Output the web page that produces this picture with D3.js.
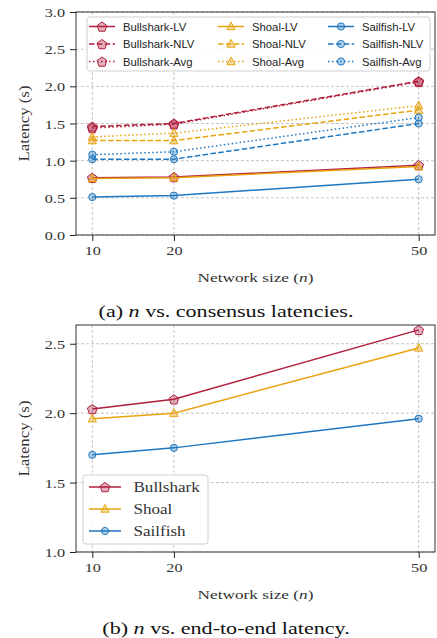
<!DOCTYPE html>
<html>
<head>
<meta charset="utf-8">
<script src="https://cdn.jsdelivr.net/npm/d3@7"></script>
<style>
  body { margin: 0; background: #fff; }
</style>
</head>
<body>
<div id="chart"></div>
<script>
// x values
const networkSizes = [10, 20, 50];

// (a) consensus latencies (s)
const bullsharkLV = [0.77, 0.78, 0.94];
const bullsharkNLV = [1.46, 1.50, 2.07];
const bullsharkAvg = [1.44, 1.49, 2.06];
const shoalLV = [0.76, 0.77, 0.92];
const shoalNLV = [1.27, 1.27, 1.68];
const shoalAvg = [1.32, 1.37, 1.74];
const sailfishLV = [0.51, 0.53, 0.75];
const sailfishNLV = [1.02, 1.02, 1.50];
const sailfishAvg = [1.08, 1.12, 1.58];

// (b) end-to-end latency (s)
const e2eBullshark = [2.03, 2.10, 2.60];
const e2eShoal = [1.96, 2.00, 2.47];
const e2eSailfish = [1.70, 1.75, 1.96];

const ticksA = [0, 0.5, 1.0, 1.5, 2.0, 2.5, 3.0];
const ticksB = [1.0, 1.5, 2.0, 2.5];

const W = 437, H = 638;
const SERIF = '"Liberation Serif", "Times New Roman", serif';
const SANS = '"Liberation Sans", Arial, sans-serif';
const INK = '#333';

const colors = { Bullshark: '#b01e3e', Shoal: '#e8a30f', Sailfish: '#1f77c0' };
const dashes = { LV: null, NLV: '5.5,2.4', Avg: '1.5,2.5' };

const svg = d3.select('#chart').append('svg').attr('width', W).attr('height', H);

const x = d3.scaleLinear().domain([8, 52]).range([76, 435]);

function pentagon(r) {
  const pts = d3.range(5).map(k => {
    const a = (-90 + 72 * k) * Math.PI / 180;
    return [r * Math.cos(a), r * Math.sin(a) + 0.6];
  });
  return 'M' + pts.map(p => p.join(',')).join('L') + 'Z';
}
const markerPaths = {
  Bullshark: pentagon(5.1),
  Shoal: 'M0,-4.6L-4.1,3.2L4.1,3.2Z',
  Sailfish: d3.symbol(d3.symbolCircle, Math.PI * 3.6 * 3.6)()
};

function drawMarker(g, name, cx, cy) {
  g.append('path')
    .attr('d', markerPaths[name])
    .attr('transform', `translate(${cx},${cy})`)
    .attr('fill', colors[name])
    .attr('fill-opacity', 0.35)
    .attr('stroke', colors[name])
    .attr('stroke-width', 1);
}

// text stretched horizontally to match the reference's wide serif
function label(g, px, py, size, sx, anchor, family, parts, rotate) {
  const t = g.append('text')
    .attr('transform', `translate(${px},${py})${rotate ? ' rotate(-90)' : ''} scale(${sx},1)`)
    .attr('text-anchor', anchor)
    .style('font-family', family)
    .style('font-size', size + 'px')
    .attr('fill', INK);
  parts.forEach(p => {
    t.append('tspan').text(p.t).style('font-style', p.i ? 'italic' : 'normal');
  });
  return t;
}

function panel(opt) {
  const y = d3.scaleLinear().domain(opt.yDomain).range([opt.bottom, opt.top]);
  const g = svg.append('g');

  // grid
  g.append('g').selectAll('line').data(networkSizes).join('line')
    .attr('x1', d => x(d)).attr('x2', d => x(d))
    .attr('y1', opt.top).attr('y2', opt.bottom)
    .attr('stroke', '#b0b0b0').attr('stroke-width', 0.8).attr('stroke-dasharray', '2.8,2.2');
  g.append('g').selectAll('line').data(opt.yTicks).join('line')
    .attr('x1', x.range()[0]).attr('x2', x.range()[1])
    .attr('y1', d => y(d)).attr('y2', d => y(d))
    .attr('stroke', '#b0b0b0').attr('stroke-width', 0.8).attr('stroke-dasharray', '2.8,2.2');

  // series
  const line = d3.line().x((d, i) => x(networkSizes[i])).y(d => y(d));
  opt.series.forEach(s => {
    const sg = g.append('g');
    sg.append('path').datum(s.values)
      .attr('d', line)
      .attr('fill', 'none')
      .attr('stroke', colors[s.name])
      .attr('stroke-width', 1.5)
      .attr('stroke-dasharray', dashes[s.style]);
    s.values.forEach((v, i) => drawMarker(sg, s.name, x(networkSizes[i]), y(v)));
  });

  // frame
  g.append('rect')
    .attr('x', x.range()[0]).attr('y', opt.top)
    .attr('width', x.range()[1] - x.range()[0]).attr('height', opt.bottom - opt.top)
    .attr('fill', 'none').attr('stroke', '#333').attr('stroke-width', 1);

  // axes
  const yAxis = d3.axisLeft(y).tickValues(opt.yTicks).tickFormat(d3.format('.1f'))
    .tickSize(6).tickPadding(5).tickSizeOuter(0);
  const ya = g.append('g').attr('transform', `translate(${x.range()[0]},0)`).call(yAxis);
  ya.select('.domain').remove();
  ya.selectAll('line').attr('stroke', '#222');
  ya.selectAll('text')
    .attr('dy', '0.36em')
    .attr('transform', 'translate(-11,0) scale(1.3,1) translate(11,0)')
    .style('font-family', SERIF).style('font-size', '12.5px').attr('fill', INK);

  const xAxis = d3.axisBottom(x).tickValues(networkSizes).tickFormat(d3.format('d'))
    .tickSize(6).tickPadding(5).tickSizeOuter(0);
  const xa = g.append('g').attr('transform', `translate(0,${opt.bottom})`).call(xAxis);
  xa.select('.domain').remove();
  xa.selectAll('line').attr('stroke', '#222');
  xa.selectAll('text')
    .attr('transform', 'scale(1.3,1)')
    .style('font-family', SERIF).style('font-size', '12.5px').attr('fill', INK);

  // axis titles and caption
  const midX = (x.range()[0] + x.range()[1]) / 2;
  label(g, midX, opt.bottom + 47, 12.5, 1.38, 'middle', SERIF,
    [{ t: 'Network size (' }, { t: 'n', i: true }, { t: ')' }]);
  label(g, 29, (opt.top + opt.bottom) / 2, 14, 1.2, 'middle', SERIF,
    [{ t: 'Latency (s)' }], true);
  label(g, 226, opt.bottom + 82, 16, 1.38, 'middle', SERIF, opt.caption).attr('fill', '#111');

  return g;
}

// (a)
const gA = panel({
  top: 12, bottom: 235, yDomain: [0, 3], yTicks: ticksA,
  caption: [{ t: '(a) ' }, { t: 'n', i: true }, { t: ' vs. consensus latencies.' }],
  series: [
    { name: 'Bullshark', style: 'LV', values: bullsharkLV },
    { name: 'Bullshark', style: 'NLV', values: bullsharkNLV },
    { name: 'Bullshark', style: 'Avg', values: bullsharkAvg },
    { name: 'Shoal', style: 'LV', values: shoalLV },
    { name: 'Shoal', style: 'NLV', values: shoalNLV },
    { name: 'Shoal', style: 'Avg', values: shoalAvg },
    { name: 'Sailfish', style: 'LV', values: sailfishLV },
    { name: 'Sailfish', style: 'NLV', values: sailfishNLV },
    { name: 'Sailfish', style: 'Avg', values: sailfishAvg }
  ]
});

// legend (a): three columns, one per protocol
const legA = gA.append('g');
legA.append('rect')
  .attr('x', 87).attr('y', 17).attr('width', 343).attr('height', 54).attr('rx', 3)
  .attr('fill', '#fff').attr('fill-opacity', 0.85).attr('stroke', '#d0d0d0').attr('stroke-width', 1);
const colX = [89, 218, 328];
const rowY = [26.5, 44, 61.5];
['Bullshark', 'Shoal', 'Sailfish'].forEach((name, c) => {
  ['LV', 'NLV', 'Avg'].forEach((style, r) => {
    const lx = colX[c], ly = rowY[r];
    legA.append('line')
      .attr('x1', lx).attr('x2', lx + 26).attr('y1', ly).attr('y2', ly)
      .attr('stroke', colors[name]).attr('stroke-width', 1.5)
      .attr('stroke-dasharray', dashes[style]);
    drawMarker(legA, name, lx + 13, ly);
    legA.append('text')
      .attr('x', lx + 34).attr('y', ly).attr('dy', '0.36em')
      .style('font-family', SANS).style('font-size', '11.3px').attr('fill', '#222')
      .text(`${name}-${style}`);
  });
});

// (b)
const gB = panel({
  top: 325, bottom: 552, yDomain: [1.0, 2.635], yTicks: ticksB,
  caption: [{ t: '(b) ' }, { t: 'n', i: true }, { t: ' vs. end-to-end latency.' }],
  series: [
    { name: 'Bullshark', style: 'LV', values: e2eBullshark },
    { name: 'Shoal', style: 'LV', values: e2eShoal },
    { name: 'Sailfish', style: 'LV', values: e2eSailfish }
  ]
});

const legB = gB.append('g');
legB.append('rect')
  .attr('x', 83).attr('y', 475).attr('width', 125).attr('height', 69).attr('rx', 3)
  .attr('fill', '#fff').attr('fill-opacity', 0.85).attr('stroke', '#d0d0d0').attr('stroke-width', 1);
['Bullshark', 'Shoal', 'Sailfish'].forEach((name, r) => {
  const ly = 487 + r * 22;
  legB.append('line')
    .attr('x1', 89).attr('x2', 121).attr('y1', ly).attr('y2', ly)
    .attr('stroke', colors[name]).attr('stroke-width', 1.5);
  drawMarker(legB, name, 105, ly);
  label(legB, 133.5, ly + 5, 15.5, 1.1, 'start', SERIF, [{ t: name }]);
});
</script>
</body>
</html>
